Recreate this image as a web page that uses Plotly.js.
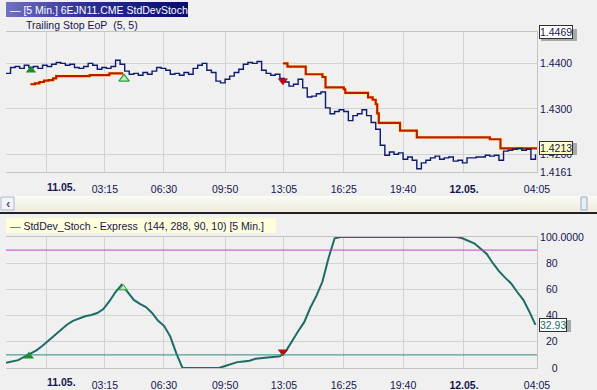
<!DOCTYPE html>
<html><head><meta charset="utf-8">
<script src="https://cdn.plot.ly/plotly-3.0.1.min.js"></script>
<style>html,body{margin:0;padding:0;background:#f0f0f0;overflow:hidden}#chart{width:597px;height:390px}</style>
</head><body><div id="chart"></div>
<script>
// ---- data (5-minute bars, x = bar number) ----
const priceStepBars = 3;
const price = [
1.4378,1.4391,1.4393,1.4389,1.4396,1.4391,1.4393,1.4389,1.4396,1.4393,
1.4398,1.4402,1.4400,1.4396,1.4398,1.4391,1.4389,1.4393,1.4400,1.4396,
1.4387,1.4391,1.4389,1.4393,1.4407,1.4398,1.4383,1.4376,1.4378,1.4374,
1.4380,1.4376,1.4383,1.4391,1.4389,1.4385,1.4376,1.4378,1.4374,1.4380,
1.4376,1.4389,1.4396,1.4400,1.4385,1.4380,1.4361,1.4357,1.4365,1.4372,
1.4380,1.4387,1.4398,1.4402,1.4400,1.4404,1.4385,1.4378,1.4374,1.4376,
1.4367,1.4359,1.4350,1.4354,1.4365,1.4346,1.4326,1.4328,1.4333,1.4337,
1.4302,1.4289,1.4294,1.4298,1.4294,1.4274,1.4285,1.4289,1.4298,1.4285,
1.4270,1.4255,1.4220,1.4198,1.4205,1.4200,1.4203,1.4189,1.4194,1.4187,
1.4168,1.4181,1.4187,1.4192,1.4196,1.4189,1.4192,1.4194,1.4185,1.4187,
1.4181,1.4192,1.4192,1.4194,1.4194,1.4198,1.4196,1.4198,1.4187,1.4207,
1.4209,1.4211,1.4213,1.4209,1.4211,1.4189,1.4200];
const stopBars   = [16,19,22,25,28,31,33,55,68,77,78,182,185,197,208,210,222,223,238,241,243,244,245,259,270,318,325,349];
const stopLevels = [1.4354,1.4356,1.4359,1.4362,1.4363,1.4367,1.4372,1.4374,1.4378,1.4378,null,
  1.4400,1.4393,1.4376,1.4370,1.4347,1.4343,1.4335,1.4325,1.4320,1.4310,1.4290,1.4269,1.4252,1.4237,1.4233,1.4213,1.4213];
const stochStepBars = 4;
const stoch = [
4,5,6,8.5,11,13.5,17,21,25,29,33,36,38,39.5,40.5,42,45,51,58,63.5,
58,52,49,46.5,42,36,32,24,11,0,0,0,0,0,0,0,1.5,3,4.5,5,
5.5,7,7.5,8,8.5,9,13,21,28,35,46,55,66,84,99,100,100,100,100,100,
100,100,100,100,100,100,100,100,100,100,100,100,100,100,100,99,97,95,91,87,
80,74,69,64.5,58,52,43,32.93];
const upperLevel = 90, lowerLevel = 10;
const tickBars   = [26.3, 65, 103.8, 144, 182.7, 222, 261, 301, 349];
const tickLabels = ['', '03:15', '06:30', '09:50', '13:05', '16:25', '19:40', '<b>12.05.</b>', '04:05'];
const firstDayLabel = '<b>11.05.</b>';
const priceTicks = [1.4161, 1.42, 1.43, 1.44];
const priceTickText = ['1.4161', '1.4200', '1.4300', '1.4400'];
const priceMax = 1.4469, priceMin = 1.4161, lastStop = 1.4213, lastStoch = 32.93;
const stochTicks = [0, 20, 40, 60, 80, 100];
const stochTickText = ['\u2007\u20070', '\u200720', '\u200740', '\u200760', '\u200780', '100.0000'];
const buyBar = [16.4], buyPrice = [1.4385];
const exitBar = [77.6], exitPrice = [1.4366];
const sellBar = [182], sellPrice = [1.4362];
const stBuyBar = [15], stBuyVal = [9];
const stExitBar = [77], stExitVal = [61];
const stSellBar = [182], stSellVal = [12.5];

// ---- layout helpers (pixel -> paper) ----
const L = 6, R = 537, HH = 390;
const xp = px => (px - L) / (R - L);
const yp = py => 1 - py / HH;
const FONT = 'Liberation Sans, Arial, sans-serif';
const FS = 10.5;
const NAVY = '#15154f';

function svgUri(svg){ return 'data:image/svg+xml;charset=utf-8,' + encodeURIComponent(svg); }
const headerSvg = "<svg xmlns='http://www.w3.org/2000/svg' width='182' height='15' preserveAspectRatio='none'><defs><linearGradient id='g' x1='0' x2='1' y1='0' y2='0'><stop offset='0' stop-color='#7070c4'/><stop offset='0.45' stop-color='#2c2c9a'/><stop offset='1' stop-color='#0a0a74'/></linearGradient></defs><rect width='182' height='15' fill='url(#g)'/></svg>";
const scrollSvg = "<svg xmlns='http://www.w3.org/2000/svg' width='597' height='15' preserveAspectRatio='none'><defs><linearGradient id='s' x1='0' x2='0' y1='0' y2='1'><stop offset='0' stop-color='#fcfbf6'/><stop offset='1' stop-color='#eeebdd'/></linearGradient></defs><rect width='597' height='15' fill='url(#s)'/></svg>";

const traces = [
  {x: stopBars, y: stopLevels, xaxis:'x', yaxis:'y', mode:'lines', line:{shape:'hv', color:'#fff2b0', width:4.2}, connectgaps:false, hoverinfo:'skip'},
  {x: stopBars, y: stopLevels, xaxis:'x', yaxis:'y', mode:'lines', line:{shape:'hv', color:'#c01800', width:2.2}, connectgaps:false, hoverinfo:'skip'},
  {y: price, x0: 0, dx: priceStepBars, xaxis:'x', yaxis:'y', mode:'lines', line:{shape:'hv', color:'#0d1a6e', width:1.4}},
  {x: buyBar, y: buyPrice, xaxis:'x', yaxis:'y', mode:'markers', marker:{symbol:'triangle-up', size:9, color:'#1f8a2a', line:{width:0}}},
  {x: exitBar, y: exitPrice, xaxis:'x', yaxis:'y', mode:'markers', marker:{symbol:'triangle-up', size:9, color:'#c8eac0', line:{width:1.2, color:'#2a9a3a'}}},
  {x: sellBar, y: sellPrice, xaxis:'x', yaxis:'y', mode:'markers', marker:{symbol:'triangle-down', size:9, color:'#b81010', line:{width:0}}},
  {y: stoch, x0: 0, dx: stochStepBars, xaxis:'x2', yaxis:'y2', mode:'lines', line:{color:'#1d6b66', width:2}},
  {x: stBuyBar, y: stBuyVal, xaxis:'x2', yaxis:'y2', mode:'markers', marker:{symbol:'triangle-up', size:9, color:'#1f8a2a', line:{width:0}}},
  {x: stExitBar, y: stExitVal, xaxis:'x2', yaxis:'y2', mode:'markers', marker:{symbol:'triangle-up', size:7, color:'#c8eac0', line:{width:1, color:'#2a9a3a'}}},
  {x: stSellBar, y: stSellVal, xaxis:'x2', yaxis:'y2', mode:'markers', marker:{symbol:'triangle-down', size:9, color:'#b81010', line:{width:0}}}
];

const xCommon = {range:[0,349], tickmode:'array', tickvals:tickBars, ticktext:tickLabels, showgrid:true, gridcolor:'#d2d2d2', gridwidth:1,
  zeroline:false, showline:true, linecolor:'#c4c4c4', mirror:true, ticks:'', ticklabelstandoff:7,
  tickfont:{family:FONT, size:FS, color:NAVY}, automargin:false, fixedrange:true};
const yCommon = {side:'right', tickmode:'array', showgrid:true, gridcolor:'#d2d2d2', zeroline:false, showline:true, linecolor:'#c4c4c4',
  ticks:'', tickfont:{family:FONT, size:FS, color:NAVY}, automargin:false, fixedrange:true};

const layout = {
  width:597, height:390, autosize:false, showlegend:false,
  paper_bgcolor:'#f0f0f0', plot_bgcolor:'#f0f0f0',
  margin:{l:L, r:597-R, t:0, b:0},
  xaxis: Object.assign({}, xCommon, {anchor:'y'}),
  xaxis2: Object.assign({}, xCommon, {anchor:'y2'}),
  yaxis: Object.assign({}, yCommon, {domain:[yp(172), yp(32)], range:[priceMin, priceMax], tickvals:priceTicks, ticktext:priceTickText}),
  yaxis2: Object.assign({}, yCommon, {domain:[yp(368), yp(237)], range:[0,100], tickvals:stochTicks, ticktext:stochTickText}),
  images: [
    {source: svgUri(headerSvg), xref:'paper', yref:'paper', x:xp(6), y:yp(2), sizex:xp(188)-xp(6), sizey:15/HH, xanchor:'left', yanchor:'top', sizing:'stretch', layer:'above'},
    {source: svgUri(scrollSvg), xref:'paper', yref:'paper', x:xp(0), y:yp(196), sizex:xp(597)-xp(0), sizey:15/HH, xanchor:'left', yanchor:'top', sizing:'stretch', layer:'above'}
  ],
  shapes: [
    {type:'line', xref:'paper', yref:'y2', x0:0, x1:1, y0:upperLevel, y1:upperLevel, line:{color:'#cc3ccc', width:1}},
    {type:'line', xref:'paper', yref:'y2', x0:0, x1:1, y0:lowerLevel, y1:lowerLevel, line:{color:'#2a8a80', width:1}},
    {type:'rect', xref:'paper', yref:'paper', x0:xp(1), x1:xp(14), y0:yp(210), y1:yp(197), fillcolor:'#f4f4f8', line:{color:'#aab4cc', width:1}, layer:'above'},
    {type:'rect', xref:'paper', yref:'paper', x0:xp(581), x1:xp(587), y0:yp(210), y1:yp(197), fillcolor:'#e8eef8', line:{color:'#9aa8c4', width:1}, layer:'above'},
    {type:'line', xref:'paper', yref:'paper', x0:xp(0), x1:xp(597), y0:yp(213), y1:yp(213), line:{color:'#202020', width:2}, layer:'above'},
    {type:'rect', xref:'paper', yref:'paper', x0:xp(6), x1:xp(276), y0:yp(233), y1:yp(218), fillcolor:'#ffffdc', line:{width:0}, layer:'above'},
    {type:'rect', xref:'paper', yref:'paper', x0:xp(541), x1:xp(577), y0:yp(41), y1:yp(29), fillcolor:'#a8a8a8', line:{width:0}, layer:'above'},
    {type:'rect', xref:'paper', yref:'paper', x0:xp(541), x1:xp(577), y0:yp(155), y1:yp(143), fillcolor:'#a8a8a8', line:{width:0}, layer:'above'},
    {type:'rect', xref:'paper', yref:'paper', x0:xp(541), x1:xp(571), y0:yp(332), y1:yp(320), fillcolor:'#a8a8a8', line:{width:0}, layer:'above'}
  ],
  annotations: [
    {xref:'paper', yref:'paper', x:xp(8), y:yp(9.5), xanchor:'left', yanchor:'middle', showarrow:false,
     text:'\u2014 [5 Min.] 6EJN11.CME StdDevStoch', font:{family:FONT, size:FS, color:'#ffffff'}},
    {xref:'paper', yref:'paper', x:xp(24), y:yp(25), xanchor:'left', yanchor:'middle', showarrow:false,
     text:'Trailing Stop EoP\u00a0\u00a0(5, 5)', font:{family:FONT, size:FS, color:NAVY}},
    {xref:'paper', yref:'paper', x:xp(8), y:yp(225.5), xanchor:'left', yanchor:'middle', showarrow:false,
     text:'<span style="color:#1d6b66">\u2014</span> StdDev_Stoch - Express\u00a0\u00a0(144, 288, 90, 10) [5 Min.]', font:{family:FONT, size:FS, color:NAVY}},
    {xref:'paper', yref:'paper', x:xp(61), y:yp(187), xanchor:'center', yanchor:'middle', showarrow:false, text:firstDayLabel, font:{family:FONT, size:FS, color:NAVY}},
    {xref:'paper', yref:'paper', x:xp(61), y:yp(382), xanchor:'center', yanchor:'middle', showarrow:false, text:firstDayLabel, font:{family:FONT, size:FS, color:NAVY}},
    {xref:'paper', yref:'paper', x:xp(7.5), y:yp(203.5), xanchor:'center', yanchor:'middle', showarrow:false, text:'<b>\u2039</b>', font:{family:FONT, size:13, color:'#4a5a8a'}},
    {xref:'paper', yref:'y', x:xp(539), y:priceMax, xanchor:'left', yanchor:'middle', showarrow:false, text:'1.4469',
     bgcolor:'#ffffff', bordercolor:'#303030', borderwidth:1, borderpad:0, font:{family:FONT, size:FS, color:NAVY}},
    {xref:'paper', yref:'y', x:xp(539), y:lastStop, xanchor:'left', yanchor:'middle', showarrow:false, text:lastStop.toFixed(4),
     bgcolor:'#ffffc4', bordercolor:'#303030', borderwidth:1, borderpad:0, font:{family:FONT, size:FS, color:NAVY}},
    {xref:'paper', yref:'y2', x:xp(539), y:lastStoch, xanchor:'left', yanchor:'middle', showarrow:false, text:lastStoch.toFixed(2),
     bgcolor:'#ffffff', bordercolor:'#303030', borderwidth:1, borderpad:0, font:{family:FONT, size:FS, color:'#1d6b66'}}
  ]
};

Plotly.newPlot('chart', traces, layout, {staticPlot:true, displayModeBar:false});
</script>
</body></html>
